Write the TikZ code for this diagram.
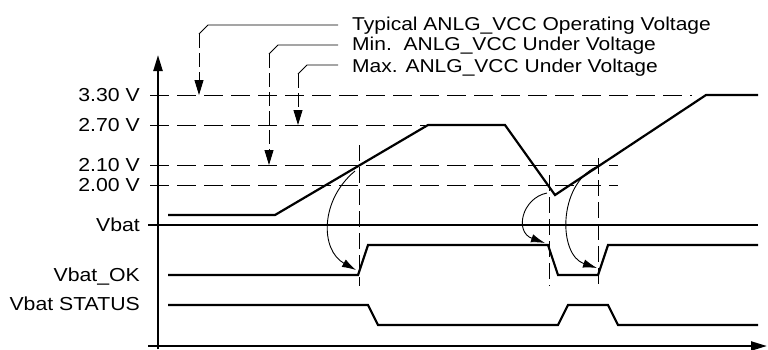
\documentclass[tikz,border=0pt]{standalone}
\usepackage{fontspec}
\setmainfont{Liberation Sans}[FakeStretch=1.13]
\usetikzlibrary{arrows.meta}
\begin{document}
\begin{tikzpicture}[x=1pt,y=-1pt,
  lbl/.style={anchor=base east,inner sep=0pt,font=\fontsize{18.8}{20}\selectfont},
  ttl/.style={anchor=base west,inner sep=0pt,font=\fontsize{18.6}{20}\selectfont},
  axisline/.style={line width=2.2pt},
  sig/.style={line width=2.2pt,line join=miter},
  hguide/.style={line width=0.9pt,dash pattern=on 19pt off 8pt},
  vguide/.style={line width=0.9pt,dash pattern=on 16pt off 6pt},
  leader/.style={line width=0.9pt},
  ldash/.style={line width=0.9pt,dash pattern=on 14pt off 5pt,-{Triangle[length=15pt,width=9pt]}},
  bendarrow/.style={line width=0.9pt,-{Latex[length=14pt,width=8.5pt]}}]
\useasboundingbox (0,0) rectangle (768,349);
% labels
\node[lbl] (l330) at (140,101.7) {3.30 V};
\node[lbl] (l270) at (140,131.7) {2.70 V};
\node[lbl] (l210) at (140,171.5) {2.10 V};
\node[lbl] (l200) at (140,191) {2.00 V};
\node[lbl] (lvbat) at (140,231.5) {Vbat};
\node[lbl] (lok) at (140,281.5) {Vbat\_OK};
\node[lbl] (lst) at (140,310.5) {Vbat STATUS};
% top texts
\node[ttl] (t1) at (352,30) {Typical ANLG\_VCC Operating Voltage};
\node[ttl] (t2) at (352,50) {Min.\ \ ANLG\_VCC Under Voltage};
\node[ttl] (t3) at (352,72) {Max. ANLG\_VCC Under Voltage};
% axes
\coordinate (yb) at (158,349); \coordinate (yt) at (158,55);
\coordinate (xl) at (148,346); \coordinate (xr) at (767,346);
\draw[axisline,-{Triangle[length=16pt,width=9pt]}] (yb) -- (yt);
\draw[axisline,-{Triangle[length=16pt,width=9pt]}] (xl) -- (xr);
% horizontal guides
\coordinate (h1a) at (150,95);  \coordinate (h1b) at (692,95);
\coordinate (h2a) at (150,125); \coordinate (h2b) at (425,125);
\coordinate (h3a) at (150,165); \coordinate (h3b) at (618,165);
\coordinate (h4a) at (150,185); \coordinate (h4b) at (618,185);
\draw[hguide] (h1a) -- (h1b);
\draw[hguide] (h2a) -- (h2b);
\draw[hguide] (h3a) -- (h3b);
\draw[hguide] (h4a) -- (h4b);
% vertical guides
\coordinate (v1a) at (359,145); \coordinate (v1b) at (359,286);
\coordinate (v2a) at (549,175); \coordinate (v2b) at (549,286);
\coordinate (v3a) at (598,158); \coordinate (v3b) at (598,286);
\draw[vguide] (v1a) -- (v1b);
\draw[vguide] (v2a) -- (v2b);
\draw[vguide] (v3a) -- (v3b);
% Vbat line
\coordinate (va) at (148,225); \coordinate (vb) at (758,225);
\draw[line width=2pt] (va) -- (vb);
% supply signal
\draw[sig] (168,215) -- (275,215) -- (428,125) -- (505,125) -- (555,195) -- (706,95) -- (758,95);
% Vbat_OK
\draw[sig] (168,275) -- (358,275) -- (368,245) -- (548,245) -- (558,275) -- (598,275) -- (608,245) -- (758,245);
% Vbat STATUS
\draw[sig] (168,305) -- (368,305) -- (378,325) -- (558,325) -- (568,305) -- (608,305) -- (618,325) -- (758,325);
% leaders
\coordinate (a1) at (338,25); \coordinate (a1b) at (208,25); \coordinate (a1c) at (199,34); \coordinate (a1t) at (199,95);
\coordinate (a2) at (338,45); \coordinate (a2b) at (278,45); \coordinate (a2c) at (269,54); \coordinate (a2t) at (269,165);
\coordinate (a3) at (338,65); \coordinate (a3b) at (307,65); \coordinate (a3c) at (298,74); \coordinate (a3t) at (298,125);
\draw[leader] (a1) -- (a1b) -- (a1c);
\draw[ldash] (a1c) -- (a1t);
\draw[leader] (a2) -- (a2b) -- (a2c);
\draw[ldash] (a2c) -- (a2t);
\draw[leader] (a3) -- (a3b) -- (a3c);
\draw[ldash] (a3c) -- (a3t);
% curved arrows
\coordinate (c1s) at (355,171); \coordinate (c1e) at (356,270);
\coordinate (c2s) at (547,193); \coordinate (c2e) at (545,243);
\coordinate (c3s) at (596,167); \coordinate (c3e) at (597,268);
\draw[bendarrow] (c1s) .. controls (320,200) and (320,250) .. (c1e);
\draw[bendarrow] (c2s) .. controls (522,198) and (514,232) .. (c2e);
\draw[bendarrow] (c3s) .. controls (558,185) and (558,255) .. (c3e);
\end{tikzpicture}
\end{document}
